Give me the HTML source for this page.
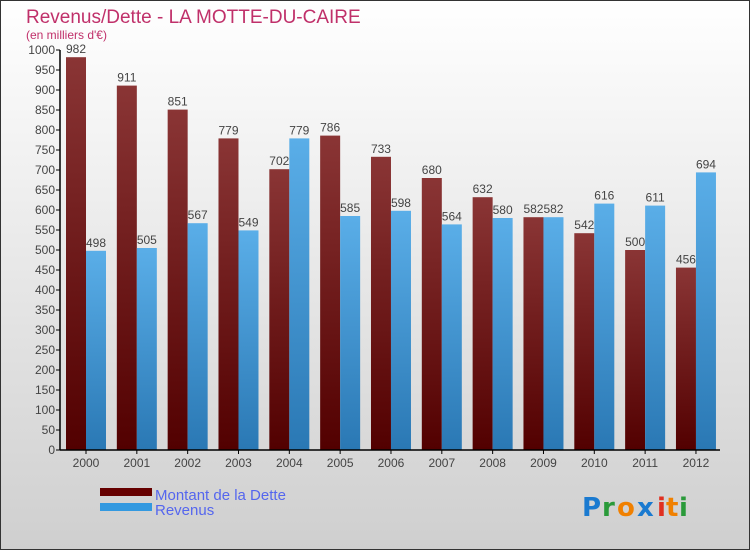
<!DOCTYPE html>
<html><head><meta charset="utf-8"><style>
body{margin:0}
#c{width:750px;height:550px;position:relative;font-family:"Liberation Sans",sans-serif}
</style></head><body>
<div id="c">
<svg id="s" width="750" height="550" xmlns="http://www.w3.org/2000/svg">
<defs>
<linearGradient id="bg" x1="0" y1="0" x2="0" y2="1"><stop offset="0" stop-color="#ffffff"/><stop offset="1" stop-color="#cfcfcf"/></linearGradient>
<linearGradient id="gd" x1="0" y1="0" x2="0" y2="1"><stop offset="0" stop-color="#8a3535"/><stop offset="1" stop-color="#520000"/></linearGradient>
<linearGradient id="gr" x1="0" y1="0" x2="0" y2="1"><stop offset="0" stop-color="#5aaee8"/><stop offset="1" stop-color="#2a78b4"/></linearGradient>
</defs>
<rect x="0.5" y="0.5" width="749" height="549" fill="url(#bg)" stroke="#333"/>
<text x="26" y="23" font-size="19" fill="#c0306a">Revenus/Dette - LA MOTTE-DU-CAIRE</text>
<text x="26" y="39" font-size="12" fill="#c0306a">(en milliers d'€)</text>
<g id="grid"></g><g id="bars"></g><g id="axes"></g>
<rect x="100" y="488" width="52" height="8" fill="#660000"/>
<rect x="100" y="503" width="52" height="8" fill="#3399e0"/>
<text x="155" y="500" font-size="15" fill="#5566ee">Montant de la Dette</text>
<text x="155" y="515" font-size="15" fill="#5566ee">Revenus</text>
<g font-size="26" font-weight="bold" font-family="'DejaVu Sans',sans-serif">
<text x="582" y="516" fill="#1a7ad0">P</text><text x="602" y="516" fill="#2a9a3a">r</text><text x="617" y="516" fill="#f08000">o</text><text x="637" y="516" fill="#1a7ad0">x</text><text x="657" y="516" fill="#e03020">i</text><text x="666" y="516" fill="#f08000">t</text><text x="679" y="516" fill="#2a9a3a">i</text>
</g>
</svg>
</div>
<script>
const years=["2000","2001","2002","2003","2004","2005","2006","2007","2008","2009","2010","2011","2012"];
const dette=[982,911,851,779,702,786,733,680,632,582,542,500,456];
const revenus=[498,505,567,549,779,585,598,564,580,582,616,611,694];
const yTicks=[0,50,100,150,200,250,300,350,400,450,500,550,600,650,700,750,800,850,900,950,1000];
const NS="http://www.w3.org/2000/svg";
const y0=450,y1=50,vmax=1000,xl=60,step=50.83,x0=86;
const Y=v=>y0-(v/vmax)*(y0-y1);
const X=i=>x0+i*step;
function mk(tag,a,p){const e=document.createElementNS(NS,tag);for(const k in a)e.setAttribute(k,a[k]);p.appendChild(e);return e;}
const axes=document.getElementById('axes'),bars=document.getElementById('bars');
const ya=mk('line',{x1:xl,y1:y1,x2:xl,y2:y0,stroke:'#000','stroke-width':1.5},axes);


const xa=mk('line',{x1:xl,y1:y0,x2:720,y2:y0,stroke:'#000','stroke-width':1.5},axes);


yTicks.forEach(v=>{
  mk('line',{x1:xl-4,y1:Y(v),x2:xl,y2:Y(v),stroke:'#000'},axes);
  const t=mk('text',{x:xl-5,y:Y(v)+4,'font-size':12,fill:'#444','text-anchor':'end'},axes);
  t.textContent=v;
  
  
});
years.forEach((yr,i)=>{
  const c=X(i);
  mk('line',{x1:c,y1:y0,x2:c,y2:y0+4,stroke:'#000'},axes);
  const t=mk('text',{x:c,y:y0+17,'font-size':12,fill:'#444','text-anchor':'middle'},axes);
  t.textContent=yr;
  
  
  const bd=mk('rect',{x:c-20,y:Y(dette[i]),width:20,height:y0-Y(dette[i]),fill:'url(#gd)'},bars);
  
  
  const br=mk('rect',{x:c,y:Y(revenus[i]),width:20,height:y0-Y(revenus[i]),fill:'url(#gr)'},bars);
  
  
  const l1=mk('text',{x:c-10,y:Y(dette[i])-4,'font-size':12,fill:'#444','text-anchor':'middle'},bars);
  l1.textContent=dette[i];
  
  
  const l2=mk('text',{x:c+10,y:Y(revenus[i])-4,'font-size':12,fill:'#444','text-anchor':'middle'},bars);
  l2.textContent=revenus[i];
  
  
});
</script>
</body></html>
